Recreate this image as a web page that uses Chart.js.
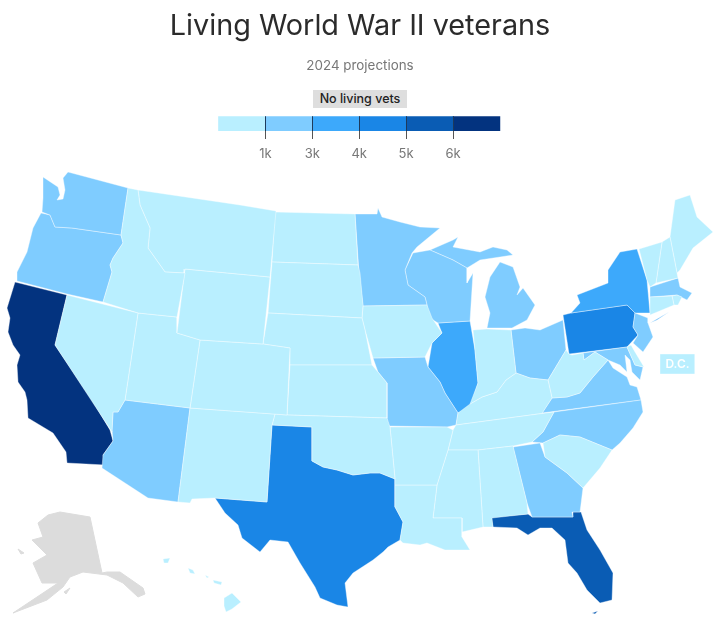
<!DOCTYPE html>
<html><head><meta charset="utf-8">
<style>
html,body{margin:0;padding:0;background:#fff;width:720px;height:621px;overflow:hidden}
#wrap{position:relative;width:720px;height:621px}
canvas{position:absolute;left:0;top:0}
.tag{position:absolute;font-family:Inter,sans-serif;text-align:center}
#nolive{left:313px;top:90px;width:94px;height:18px;line-height:18px;background:#dedede;color:#222;font-size:12.5px;font-weight:500}
#dc{left:660px;top:354px;width:35px;height:20px;line-height:20px;color:#fff;font-size:12px;font-weight:600}
</style></head><body>
<div id="wrap">
<div style="position:absolute;left:0;top:0;width:720px;height:621px"><canvas id="map"></canvas></div>
<div style="position:absolute;left:0;top:0;width:720px;height:170px"><canvas id="key"></canvas></div>
<div class="tag" id="nolive">No living vets</div>
<div class="tag" id="dc">D.C.</div>
</div>
<script src="https://cdn.jsdelivr.net/npm/chart.js@4"></script>
<script>
const titleText = "Living World War II veterans";
const subtitleText = "2024 projections";
const binColors = ["#b9efff","#7fccff","#3da9fb","#1a86e6","#0a5cb4","#03337f"];
const noDataColor = "#dcdcdc";
const tickValues = [1,2,3,4,5];
const tickLabels = ["1k","3k","4k","5k","6k"];

const WA=[[43,177],[58,187],[60,195],[57,200],[63,199],[65,190],[63,178],[68,172],[128,188],[121,235],[100,232],[72,228],[55,227],[50,215],[42,212],[43,198]];
const OR=[[41,213],[50,215],[55,227],[72,228],[100,232],[121,235],[123,243],[113,258],[110,265],[112,272],[103,302],[67,294],[17,281],[17,272],[27,252],[33,228]];
const CA=[[15,282],[67,295],[55,345],[92,400],[110,430],[113,441],[103,455],[105,465],[67,463],[66,452],[53,433],[43,427],[28,418],[27,400],[25,392],[18,382],[17,365],[20,355],[13,345],[8,332],[10,318],[7,308]];
const NV=[[67,295],[138,313],[125,400],[118,412],[113,412],[112,432],[55,345]];
const ID=[[128,188],[138,190],[140,205],[150,228],[148,248],[165,272],[185,273],[177,317],[138,313],[103,302],[112,272],[110,265],[113,258],[123,243],[121,235]];
const MT=[[138,190],[240,205],[276,211],[270,277],[185,269],[184,273],[165,272],[148,248],[150,228],[140,205]];
const WY=[[185,269],[270,277],[263,344],[200,340],[177,333]];
const UT=[[138,313],[177,317],[177,333],[200,340],[190,408],[125,400]];
const CO=[[200,340],[263,344],[290,348],[287,415],[190,408]];
const NM=[[190,408],[275,414],[272,425],[267,502],[215,498],[192,499],[190,503],[178,502]];
const AZ=[[125,400],[190,408],[178,502],[148,498],[102,468],[103,455],[113,441],[112,430],[113,412],[118,412]];
const TX=[[272,425],[312,427],[312,461],[323,467],[337,470],[353,475],[370,473],[380,473],[395,479],[395,507],[403,522],[400,540],[388,547],[383,552],[373,560],[353,573],[345,583],[348,607],[337,605],[320,598],[315,587],[300,563],[288,542],[270,540],[260,552],[242,538],[238,525],[225,513],[215,498],[267,502]];
const OK=[[275,414],[287,415],[387,418],[390,427],[395,479],[380,473],[370,473],[353,475],[337,470],[323,467],[312,461],[312,427],[272,425]];
const KS=[[290,365],[372,365],[378,372],[387,383],[387,418],[287,415]];
const NE=[[268,313],[362,318],[365,330],[372,365],[290,365],[290,348],[263,344]];
const SD=[[272,262],[358,265],[360,273],[363,305],[362,318],[268,313]];
const ND=[[275,212],[355,214],[358,265],[272,262]];
const MN=[[355,214],[377,214],[378,208],[382,217],[400,222],[420,227],[440,228],[417,247],[412,253],[405,270],[408,285],[425,297],[427,305],[363,306],[359,273]];
const WI=[[413,253],[430,250],[453,260],[467,268],[467,283],[473,273],[470,321],[438,323],[428,317],[427,305],[425,297],[408,285],[405,270]];
const MIU=[[430,250],[453,240],[458,237],[453,247],[480,252],[493,247],[507,250],[513,255],[500,257],[480,260],[467,268],[453,260]];
const MIL=[[487,328],[490,313],[485,297],[490,277],[500,262],[513,267],[520,287],[517,295],[523,288],[535,305],[527,320],[512,328]];
const IN=[[473,330],[487,329],[511,330],[516,373],[506,380],[497,392],[482,397],[470,404],[478,383]];
const IL=[[438,323],[470,321],[475,350],[478,383],[470,408],[458,413],[445,393],[440,382],[428,367],[432,343],[442,333]];
const IA=[[363,306],[427,305],[432,318],[442,333],[432,343],[425,357],[373,358],[365,330],[362,318]];
const MO=[[373,358],[425,357],[428,367],[440,382],[445,393],[458,413],[456,425],[447,427],[387,426],[387,383],[378,372]];
const AR=[[390,427],[447,427],[453,430],[448,450],[437,485],[395,485],[395,479]];
const LA=[[395,485],[437,485],[433,518],[462,518],[462,537],[470,550],[445,550],[427,543],[420,545],[403,543],[400,540],[403,522],[395,507]];
const MS=[[448,450],[478,450],[483,527],[462,532],[462,518],[433,518],[437,485]];
const AL=[[478,450],[513,446],[527,503],[528,514],[492,518],[493,527],[483,527]];
const GA=[[513,447],[540,443],[545,457],[567,473],[583,488],[580,512],[572,512],[573,517],[532,517],[527,503]];
const FL=[[491,517],[528,514],[532,517],[573,517],[573,512],[581,512],[587,530],[600,550],[613,573],[612,600],[600,603],[587,590],[577,573],[568,563],[565,540],[552,528],[540,528],[528,535],[517,528],[493,527]];
const FK=[[592,613],[598,611],[595,614]];
const SC=[[543,443],[560,435],[580,437],[612,450],[600,468],[583,488],[567,473],[545,457]];
const NC=[[532,442],[543,432],[554,412],[641,400],[643,412],[633,428],[620,443],[612,450],[580,437],[560,435],[543,443]];
const TN=[[448,450],[453,430],[456,425],[542,413.5],[554,412],[543,432],[532,442],[513,446],[478,450]];
const KY=[[456,425],[458,413],[470,404],[482,397],[497,392],[506,380],[516,373],[530,378],[548,380],[552,398],[542,413.5]];
const VA=[[542,413],[552,398],[567,397],[580,393],[593,377],[608,360],[613,368],[627,377],[630,385],[637,387],[641,400]];
const WV=[[566,350],[569,354],[572,355],[583,353],[584,360],[595,352],[608,360],[593,377],[580,393],[567,397],[552,398],[548,380]];
const OH=[[511,330],[525,328],[540,330],[563,320],[566,350],[548,380],[530,378],[516,373]];
const PA=[[563,315],[571,313],[627,305],[635,313],[633,327],[638,335],[627,347],[569,354]];
const NY=[[571,313],[580,303],[577,295],[608,283],[608,270],[620,252],[637,249],[647,280],[650,313],[635,313],[627,305]];
const LI=[[650,323],[669,312],[657,320]];
const NJ=[[635,313],[648,318],[648,323],[653,337],[643,352],[633,343],[638,335],[633,327]];
const MD=[[583,353],[627,347],[635,365],[643,367],[640,380],[632,372],[630,360],[625,355],[627,372],[620,365],[608,360],[595,352],[584,360]];
const DE=[[627,347],[631,345],[635,352],[644,367],[635,365]];
const CT=[[650,297],[672,296],[674,305],[650,315]];
const RI=[[672,296],[677,295],[682,297],[678,305],[674,305]];
const MA=[[650,287],[678,278],[680,287],[692,293],[687,300],[677,295],[650,297]];
const VT=[[639,249],[662,242],[656,283],[650,287],[647,280]];
const NH=[[662,242],[670,237],[677,273],[678,278],[656,283]];
const ME=[[670,237],[675,200],[690,195],[697,217],[713,232],[693,248],[680,270],[677,273]];
const AK=[[60,512],[90,517],[102,573],[107,572],[120,572],[143,588],[145,594],[138,597],[123,583],[107,575],[83,572],[70,577],[63,587],[47,600],[13,613],[37,597],[58,583],[42,583],[33,563],[47,555],[32,540],[43,537],[38,523],[48,515]];
const AK2=[[64,592],[70,588],[66,594]];
const AK3=[[18,549],[24,553],[21,554]];
const HI1=[[224,598],[232,593],[241,602],[232,609],[226,612],[224,606]];
const HI2=[[163,559],[170,558],[168,563],[164,563]];
const HI3=[[188,568],[193,570],[195,574],[190,573]];
const HI4=[[213,580],[222,582],[221,585],[214,583]];
const HI5=[[205,575],[209,577],[207,578]];
const DC=[[660,354],[695,354],[695,374],[660,374]];

const bin0 = [NV,ID,MT,WY,UT,CO,NM,OK,KS,NE,SD,ND,IN,IA,AR,LA,MS,AL,SC,TN,KY,WV,CT,RI,VT,NH,ME,DE,HI1,HI2,HI3,HI4,HI5,DC];
const bin1 = [WA,OR,AZ,MN,WI,MIU,MIL,MO,GA,NC,VA,OH,NJ,MD,MA];
const bin2 = [IL,NY,LI];
const bin3 = [TX,PA];
const bin4 = [FL,FK];
const bin5 = [CA];
const noData = [AK,AK2,AK3];

function shape(points,color,edge){
  return {data:[...points,points[0]].map(p=>({x:p[0],y:p[1]})),showLine:true,tension:0,pointRadius:0,
    fill:'shape',backgroundColor:color,borderColor:edge,borderWidth:1};
}
const edge="rgba(255,255,255,0.38)";
const mapSets=[];
[bin0,bin1,bin2,bin3,bin4,bin5].forEach((list,i)=>list.forEach(p=>mapSets.push(shape(p,binColors[i],edge))));
noData.forEach(p=>mapSets.push(shape(p,noDataColor,noDataColor)));

new Chart(document.getElementById('map'),{type:'scatter',data:{datasets:mapSets},options:{
  responsive:true,maintainAspectRatio:false,animation:false,layout:{padding:0},
  plugins:{legend:{display:false},tooltip:{enabled:false},title:{display:false}},
  scales:{x:{type:'linear',min:0,max:720,display:false},y:{type:'linear',min:0,max:621,reverse:true,display:false}}
}});

const keySets=binColors.map(c=>({data:[1],backgroundColor:c,borderWidth:0,barPercentage:1,categoryPercentage:1}));
new Chart(document.getElementById('key'),{type:'bar',data:{labels:['bins'],datasets:keySets},options:{
  indexAxis:'y',responsive:true,maintainAspectRatio:false,animation:false,layout:{padding:0},
  plugins:{legend:{display:false},tooltip:{enabled:false},
    title:{display:true,text:titleText,color:'#2b2b2b',font:{family:'Inter',size:28.8,weight:'400',lineHeight:1.2},padding:{top:9,bottom:14.4}},
    subtitle:{display:true,text:subtitleText,color:'#777',font:{family:'Inter',size:13.4,weight:'400',lineHeight:1.2},padding:{top:0,bottom:42.2}}},
  scales:{
    y:{display:false,stacked:true},
    x:{stacked:true,min:-4.659,max:10.693,
      afterBuildTicks:s=>{s.ticks=tickValues.map(v=>({value:v}));},
      afterFit:s=>{s.height=39;},
      border:{display:false},
      grid:{z:1,color:'#1d3a5c',tickColor:'#555',tickLength:8,lineWidth:1},
      ticks:{autoSkip:false,maxRotation:0,color:'#777',padding:7,font:{family:'Inter',size:13},
        callback:v=>tickLabels[tickValues.indexOf(v)]}}
  }
}});
</script>
</body></html>
